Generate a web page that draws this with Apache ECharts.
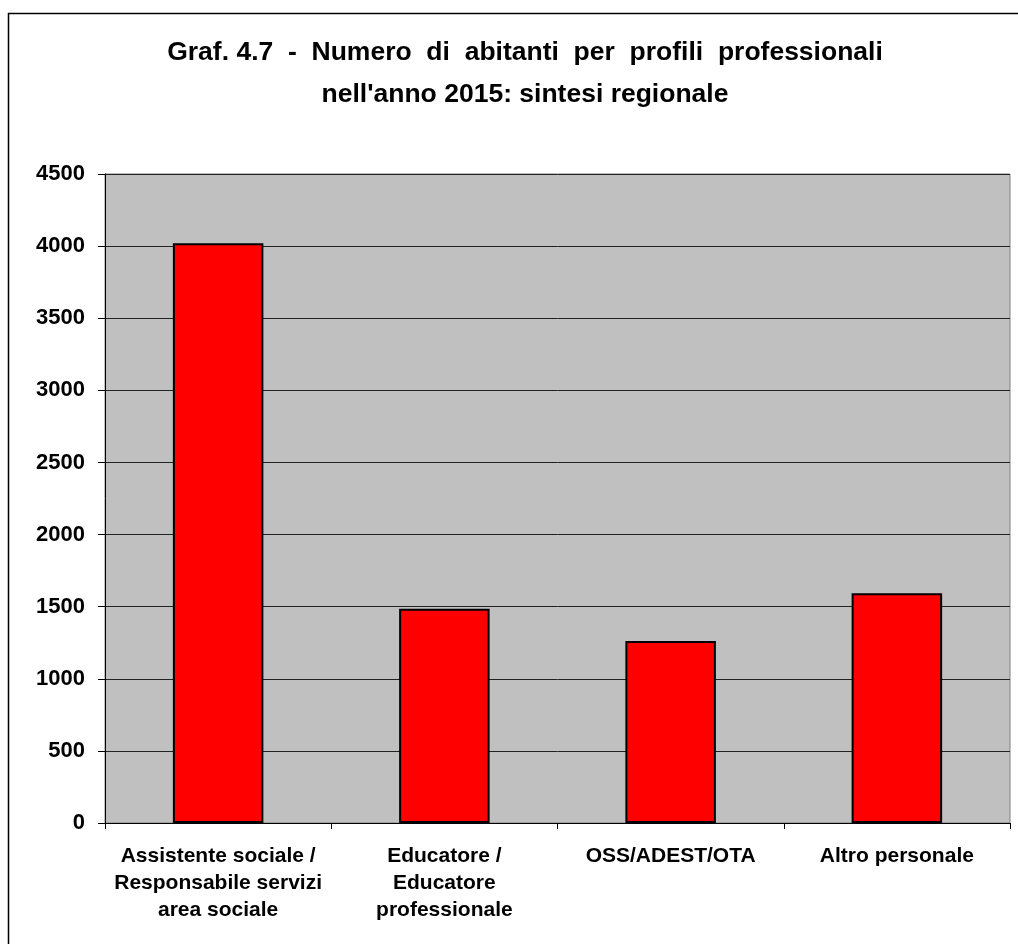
<!DOCTYPE html>
<html>
<head>
<meta charset="utf-8">
<script src="https://cdn.jsdelivr.net/npm/echarts@6/dist/echarts.min.js"></script>
<style>
  html, body { margin: 0; padding: 0; background: #fff; }
  #chart { width: 1018px; height: 944px; }
</style>
</head>
<body>
<div id="chart"></div>
<script>
const categories = [
  'Assistente sociale /\nResponsabile servizi\narea sociale',
  'Educatore /\nEducatore\nprofessionale',
  'OSS/ADEST/OTA',
  'Altro personale'
]
const values = [4020, 1485, 1262, 1593]
const yTicks = { min: 0, max: 4500, interval: 500 }

const font = '"Liberation Sans", Arial, sans-serif'

const option = {
  animation: false,
  backgroundColor: '#fff',
  title: {
    text: 'Graf. 4.7  -  Numero  di  abitanti  per  profili  professionali\nnell\'anno 2015: sintesi regionale',
    left: 520,
    top: 27,
    textAlign: 'center',
    textStyle: {
      fontFamily: font,
      fontWeight: 'bold',
      fontSize: 26.5,
      lineHeight: 42,
      color: '#000'
    }
  },
  graphic: [
    {
      type: 'rect',
      shape: { x: 8.5, y: 13.5, width: 1100, height: 1000 },
      style: { fill: 'none', stroke: '#000', lineWidth: 1.5 },
      silent: true,
      z: -1
    }
  ],
  grid: {
    left: 105,
    right: 8,
    top: 174,
    bottom: 121,
    show: true,
    backgroundColor: '#c0c0c0',
    borderColor: '#808080',
    borderWidth: 1
  },
  xAxis: {
    type: 'category',
    data: categories,
    axisLine: { lineStyle: { color: '#000', width: 1 } },
    axisTick: { show: true, length: 6, lineStyle: { color: '#000' } },
    axisLabel: {
      interval: 0,
      margin: 20,
      fontFamily: font,
      fontWeight: 'bold',
      fontSize: 21,
      lineHeight: 27,
      color: '#000',
      align: 'center'
    }
  },
  yAxis: {
    type: 'value',
    min: yTicks.min,
    max: yTicks.max,
    interval: yTicks.interval,
    axisLine: { show: true, lineStyle: { color: '#000', width: 1 } },
    axisTick: { show: true, length: 7, lineStyle: { color: '#000' } },
    splitLine: { show: true, lineStyle: { color: '#222', width: 1 } },
    axisLabel: {
      margin: 20,
      fontFamily: font,
      fontWeight: 'bold',
      fontSize: 22,
      color: '#000',
      formatter: v => String(v)
    }
  },
  series: [
    {
      type: 'bar',
      data: values,
      barWidth: '40%',
      itemStyle: {
        color: '#ff0000',
        borderColor: '#000',
        borderWidth: 2
      }
    }
  ]
}

const myChart = echarts.init(document.getElementById('chart'), null, { renderer: 'canvas' })
myChart.setOption(option)
</script>
</body>
</html>
